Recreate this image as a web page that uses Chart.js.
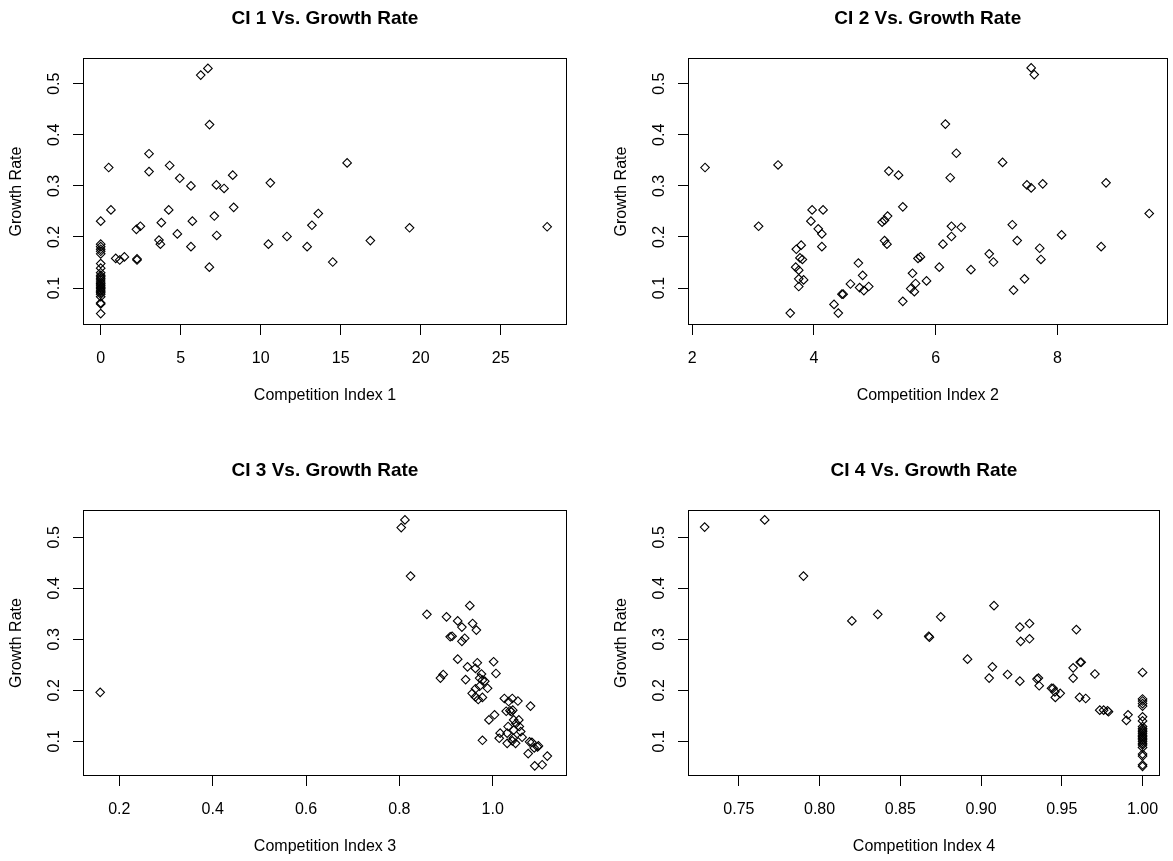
<!DOCTYPE html>
<html><head><meta charset="utf-8">
<script src="https://cdn.jsdelivr.net/npm/chart.js@4.4.1/dist/chart.umd.min.js"></script>
<style>
html,body{margin:0;padding:0;background:#fff;}
body{width:1173px;height:861px;position:relative;overflow:hidden;}
canvas{position:absolute;}
</style></head><body>
<canvas id="c1"></canvas><canvas id="c2"></canvas><canvas id="c3"></canvas><canvas id="c4"></canvas>
<script>
// ---------- DATA ----------
const titles = ["CI 1 Vs. Growth Rate", "CI 2 Vs. Growth Rate", "CI 3 Vs. Growth Rate", "CI 4 Vs. Growth Rate"];
const xTitles = ["Competition Index 1", "Competition Index 2", "Competition Index 3", "Competition Index 4"];
const yTitle = "Growth Rate";

const yTicks = [0.1, 0.2, 0.3, 0.4, 0.5];
const yTickLabels = ["0.1", "0.2", "0.3", "0.4", "0.5"];

const xTicks1 = [0, 5, 10, 15, 20, 25];
const xTickLabels1 = ["0", "5", "10", "15", "20", "25"];
const xTicks2 = [2, 4, 6, 8];
const xTickLabels2 = ["2", "4", "6", "8"];
const xTicks3 = [0.2, 0.4, 0.6, 0.8, 1.0];
const xTickLabels3 = ["0.2", "0.4", "0.6", "0.8", "1.0"];
const xTicks4 = [0.75, 0.80, 0.85, 0.90, 0.95, 1.00];
const xTickLabels4 = ["0.75", "0.80", "0.85", "0.90", "0.95", "1.00"];

// Panel 1: Competition Index 1 vs growth rate
const ci1 = [6.25, 6.7, 6.8, 3.02, 0.5, 3.02, 4.31, 4.94, 5.64, 7.23, 7.71, 8.25, 10.6, 15.4, 0.64,
  2.23, 2.48, 3.79, 4.25, 4.79, 5.73, 7.1, 7.25, 8.31, 3.64, 3.73, 5.64, 6.79, 10.48, 11.64, 12.9,
  13.2, 13.6, 14.5, 16.85, 0.94, 1.19, 1.48, 2.27, 2.27, 19.3, 27.9,
  0, 0, 0, 0, 0, 0, 0, 0, 0, 0, 0, 0, 0, 0, 0, 0, 0, 0, 0, 0, 0, 0, 0, 0, 0, 0, 0];
const gr1 = [0.517, 0.530, 0.420, 0.363, 0.336, 0.328, 0.340, 0.315, 0.300, 0.302, 0.295, 0.321, 0.306, 0.345, 0.253,
  0.215, 0.221, 0.228, 0.253, 0.206, 0.231, 0.241, 0.203, 0.258, 0.194, 0.186, 0.181, 0.141, 0.186, 0.201, 0.181,
  0.223, 0.246, 0.151, 0.193, 0.158, 0.155, 0.161, 0.157, 0.155, 0.218, 0.220,
  0.231, 0.186, 0.181, 0.176, 0.172, 0.167, 0.148, 0.139, 0.130, 0.125, 0.122, 0.119, 0.116, 0.112, 0.109,
  0.106, 0.104, 0.101, 0.099, 0.096, 0.094, 0.091, 0.088, 0.083, 0.071, 0.069, 0.050];

// Panel 2
const ci2 = [2.21, 3.41, 3.09, 3.97, 4.15, 3.95, 4.07, 4.13, 4.13, 3.79, 3.71, 3.77, 3.81, 3.70, 3.75, 3.75,
  3.83, 3.75, 3.61, 4.33, 4.40, 4.46, 4.48, 4.60, 4.73, 4.80, 4.75, 4.82, 4.90, 5.23, 5.39, 5.46, 5.12,
  5.16, 5.21, 5.16, 5.20, 5.46, 5.62, 5.67, 5.59, 5.65, 5.71, 5.75, 5.85,
  7.57, 7.62, 6.16, 6.34, 6.24, 7.10, 7.50, 7.57, 7.76, 8.80, 9.51, 6.26, 6.42, 6.26, 6.12, 7.26, 7.34,
  8.07, 7.71, 7.73, 8.72, 6.88, 6.95, 6.06, 6.58, 7.46, 7.28];
const gr2 = [0.336, 0.341, 0.221, 0.253, 0.253, 0.231, 0.216, 0.206, 0.181, 0.184, 0.176, 0.159, 0.156, 0.141, 0.135, 0.118,
  0.116, 0.103, 0.051, 0.068, 0.051, 0.088, 0.088, 0.108, 0.149, 0.125, 0.101, 0.095, 0.103, 0.329, 0.321, 0.259, 0.229,
  0.233, 0.241, 0.193, 0.186, 0.074, 0.129, 0.109, 0.099, 0.093, 0.158, 0.161, 0.114,
  0.531, 0.518, 0.421, 0.364, 0.316, 0.346, 0.302, 0.296, 0.304, 0.306, 0.246, 0.221, 0.219, 0.201, 0.186, 0.224, 0.193,
  0.204, 0.178, 0.156, 0.181, 0.167, 0.151, 0.141, 0.136, 0.118, 0.096];

// Panel 3
const ci3 = [0.159, 0.804, 0.812, 0.824, 0.859, 0.901, 0.951, 0.925, 0.934, 0.957, 0.965, 0.909, 0.913, 0.934,
  0.940, 0.925, 0.946, 0.967, 0.963, 1.002, 1.007, 0.888, 0.894, 0.942, 0.976, 0.972, 0.978, 0.983, 0.963,
  0.972, 0.989, 0.956, 0.963, 0.969, 0.978, 0.992, 1.004, 0.978, 1.025, 1.034, 1.042, 1.054, 1.081, 1.029,
  1.037, 1.040, 1.043, 1.045, 1.056, 1.050, 1.057, 1.033, 1.045, 1.060, 1.016, 1.014, 1.031, 1.031, 1.044,
  1.049, 1.042, 1.063, 1.079, 1.096, 1.089, 1.076, 1.117, 1.090, 1.106, 1.084, 1.098];
const gr3 = [0.196, 0.519, 0.534, 0.424, 0.349, 0.344, 0.366, 0.336, 0.324, 0.331, 0.318, 0.305, 0.306, 0.296,
  0.302, 0.261, 0.246, 0.254, 0.243, 0.256, 0.233, 0.224, 0.231, 0.221, 0.232, 0.224, 0.220, 0.218, 0.203,
  0.208, 0.204, 0.194, 0.187, 0.182, 0.186, 0.142, 0.152, 0.102, 0.184, 0.178, 0.184, 0.179, 0.169, 0.159,
  0.160, 0.158, 0.161, 0.142, 0.142, 0.135, 0.129, 0.129, 0.122, 0.119, 0.116, 0.106, 0.116, 0.096, 0.106,
  0.096, 0.101, 0.108, 0.099, 0.089, 0.087, 0.076, 0.071, 0.052, 0.054, 0.098, 0.091];

// Panel 4
const ci4 = [0.7288, 0.766, 0.790, 0.820, 0.836, 0.875, 0.8676, 0.868, 0.908, 0.924, 0.930, 0.9245, 0.930, 0.959,
  0.8916, 0.907, 0.905, 0.9164, 0.924, 0.9346, 0.9355, 0.936, 0.9436, 0.9446, 0.9457, 0.949, 0.946, 0.957,
  0.9614, 0.962, 0.957, 0.9705, 0.961, 0.9648, 0.9735, 0.9759, 0.9783, 0.9789, 0.991, 0.990,
  1.0, 1.0, 1.0, 1.0, 1.0, 1.0, 1.0, 1.0, 1.0, 1.0, 1.0, 1.0, 1.0, 1.0, 1.0, 1.0, 1.0, 1.0, 1.0, 1.0, 1.0, 1.0, 1.0, 1.0];
const gr4 = [0.520, 0.534, 0.424, 0.336, 0.349, 0.344, 0.306, 0.304, 0.366, 0.324, 0.331, 0.296, 0.301, 0.319,
  0.261, 0.246, 0.224, 0.231, 0.218, 0.222, 0.224, 0.209, 0.204, 0.204, 0.197, 0.194, 0.186, 0.244,
  0.255, 0.255, 0.224, 0.232, 0.186, 0.184, 0.161, 0.161, 0.160, 0.158, 0.152, 0.141,
  0.235, 0.183, 0.179, 0.174, 0.169, 0.148, 0.140, 0.129, 0.125, 0.122, 0.119, 0.116, 0.112, 0.109, 0.106,
  0.103, 0.100, 0.096, 0.093, 0.088, 0.075, 0.071, 0.054, 0.051];

// ---------- LAYOUT / STYLE ----------
const FONT = "'Liberation Sans', Arial, sans-serif";
const LAB = 16, TIT = 19;
const panels = [
  {id: 'c1', cx: 0, cy: 0, w: 600, h: 430, box: [83, 58, 567, 325], x: ci1, y: gr1, xr: [-1.106, 29.14], yr: [0.0277, 0.5504], ticks: xTicks1, labels: xTickLabels1, title: titles[0], xlab: xTitles[0]},
  {id: 'c2', cx: 600, cy: 0, w: 573, h: 430, box: [688, 58, 1171, 325], x: ci2, y: gr2, xr: [1.930, 9.812], yr: [0.0277, 0.5504], ticks: xTicks2, labels: xTickLabels2, title: titles[1], xlab: xTitles[1]},
  {id: 'c3', cx: 0, cy: 430, w: 600, h: 431, box: [83, 510, 567, 776], x: ci3, y: gr3, xr: [0.1222, 1.1592], yr: [0.032, 0.5535], ticks: xTicks3, labels: xTickLabels3, title: titles[2], xlab: xTitles[2]},
  {id: 'c4', cx: 600, cy: 430, w: 573, h: 431, box: [688, 510, 1171, 776], x: ci4, y: gr4, xr: [0.7185, 1.0108], yr: [0.032, 0.5535], ticks: xTicks4, labels: xTickLabels4, title: titles[3], xlab: xTitles[3]}
];

const boxPlugin = {
  id: 'rbox',
  afterDraw(chart) {
    const a = chart.chartArea, ctx = chart.ctx;
    ctx.save();
    ctx.strokeStyle = '#000';
    ctx.lineWidth = 1;
    const l = Math.round(a.left) + 0.5, t = Math.round(a.top) + 0.5;
    const r = Math.round(a.right) - 0.5, b = Math.round(a.bottom) - 0.5;
    ctx.strokeRect(l, t, r - l, b - t);
    ctx.restore();
  }
};
const yLabelPlugin = {
  id: 'ylabels',
  afterDraw(chart) {
    const s = chart.scales.y, ctx = chart.ctx;
    ctx.save();
    ctx.fillStyle = '#000';
    ctx.font = LAB + 'px ' + FONT;
    ctx.textAlign = 'center';
    ctx.textBaseline = 'middle';
    yTicks.forEach((v, i) => {
      const py = s.getPixelForValue(v);
      ctx.save();
      ctx.translate(chart.chartArea.left - 28, py);
      ctx.rotate(-Math.PI / 2);
      ctx.fillText(yTickLabels[i], 0, 0);
      ctx.restore();
    });
    ctx.restore();
  }
};

function make(p) {
  const cv = document.getElementById(p.id);
  cv.width = p.w; cv.height = p.h;
  cv.style.left = p.cx + 'px'; cv.style.top = p.cy + 'px';
  cv.style.width = p.w + 'px'; cv.style.height = p.h + 'px';
  const [bl, bt, br, bb] = p.box;
  const L = bl - p.cx, T = bt - p.cy, R = br - p.cx, B = bb - p.cy;
  const tLH = TIT * 1.2, lLH = LAB * 1.2;
  const tPadTop = (bt - 39) - p.cy - tLH / 2;
  const tPadBot = T - tPadTop - tLH;
  const xTitlePadBot = p.h - (bb + 71 - p.cy) - lLH / 2;
  const yTitlePadTop = (bl - 66) - p.cx - lLH / 2;
  new Chart(cv, {
    type: 'scatter',
    data: {datasets: [{
      data: p.x.map((v, i) => ({x: v, y: p.y[i]})),
      pointStyle: 'rectRot', radius: 4.3, pointHoverRadius: 4.3,
      borderColor: '#000', backgroundColor: 'rgba(0,0,0,0)', borderWidth: 1.1
    }]},
    options: {
      responsive: false, animation: false, devicePixelRatio: 1, events: [],
      layout: {padding: {left: 0, top: 0, right: p.w - R, bottom: 0}},
      plugins: {
        legend: {display: false}, tooltip: {enabled: false},
        title: {display: true, text: p.title, fullSize: false, color: '#000',
          font: {family: FONT, size: TIT, weight: 'bold', lineHeight: 1.2},
          padding: {top: tPadTop, bottom: tPadBot}}
      },
      scales: {
        x: {
          type: 'linear', position: 'bottom', min: p.xr[0], max: p.xr[1],
          afterBuildTicks: s => { s.ticks = p.ticks.map(v => ({value: v})); },
          afterFit: s => { s.height = p.h - B; },
          ticks: {autoSkip: false, minRotation: 0, maxRotation: 0, padding: 14.4, color: '#000',
            font: {family: FONT, size: LAB, lineHeight: 1.2}, callback: (v, i) => p.labels[i]},
          grid: {display: true, drawOnChartArea: false, drawTicks: true, tickLength: 10, tickColor: '#000', tickWidth: 1},
          border: {display: false},
          title: {display: true, text: p.xlab, color: '#000', font: {family: FONT, size: LAB, lineHeight: 1.2},
            padding: {top: 0, bottom: xTitlePadBot}}
        },
        y: {
          type: 'linear', position: 'left', min: p.yr[0], max: p.yr[1],
          afterBuildTicks: s => { s.ticks = yTicks.map(v => ({value: v})); },
          afterFit: s => { s.width = L; },
          ticks: {display: false},
          grid: {display: true, drawOnChartArea: false, drawTicks: true, tickLength: 10, tickColor: '#000', tickWidth: 1},
          border: {display: false},
          title: {display: true, text: yTitle, color: '#000', font: {family: FONT, size: LAB, lineHeight: 1.2},
            padding: {top: yTitlePadTop, bottom: 0}}
        }
      }
    },
    plugins: [boxPlugin, yLabelPlugin]
  });
}
panels.forEach(make);
</script>
</body></html>
